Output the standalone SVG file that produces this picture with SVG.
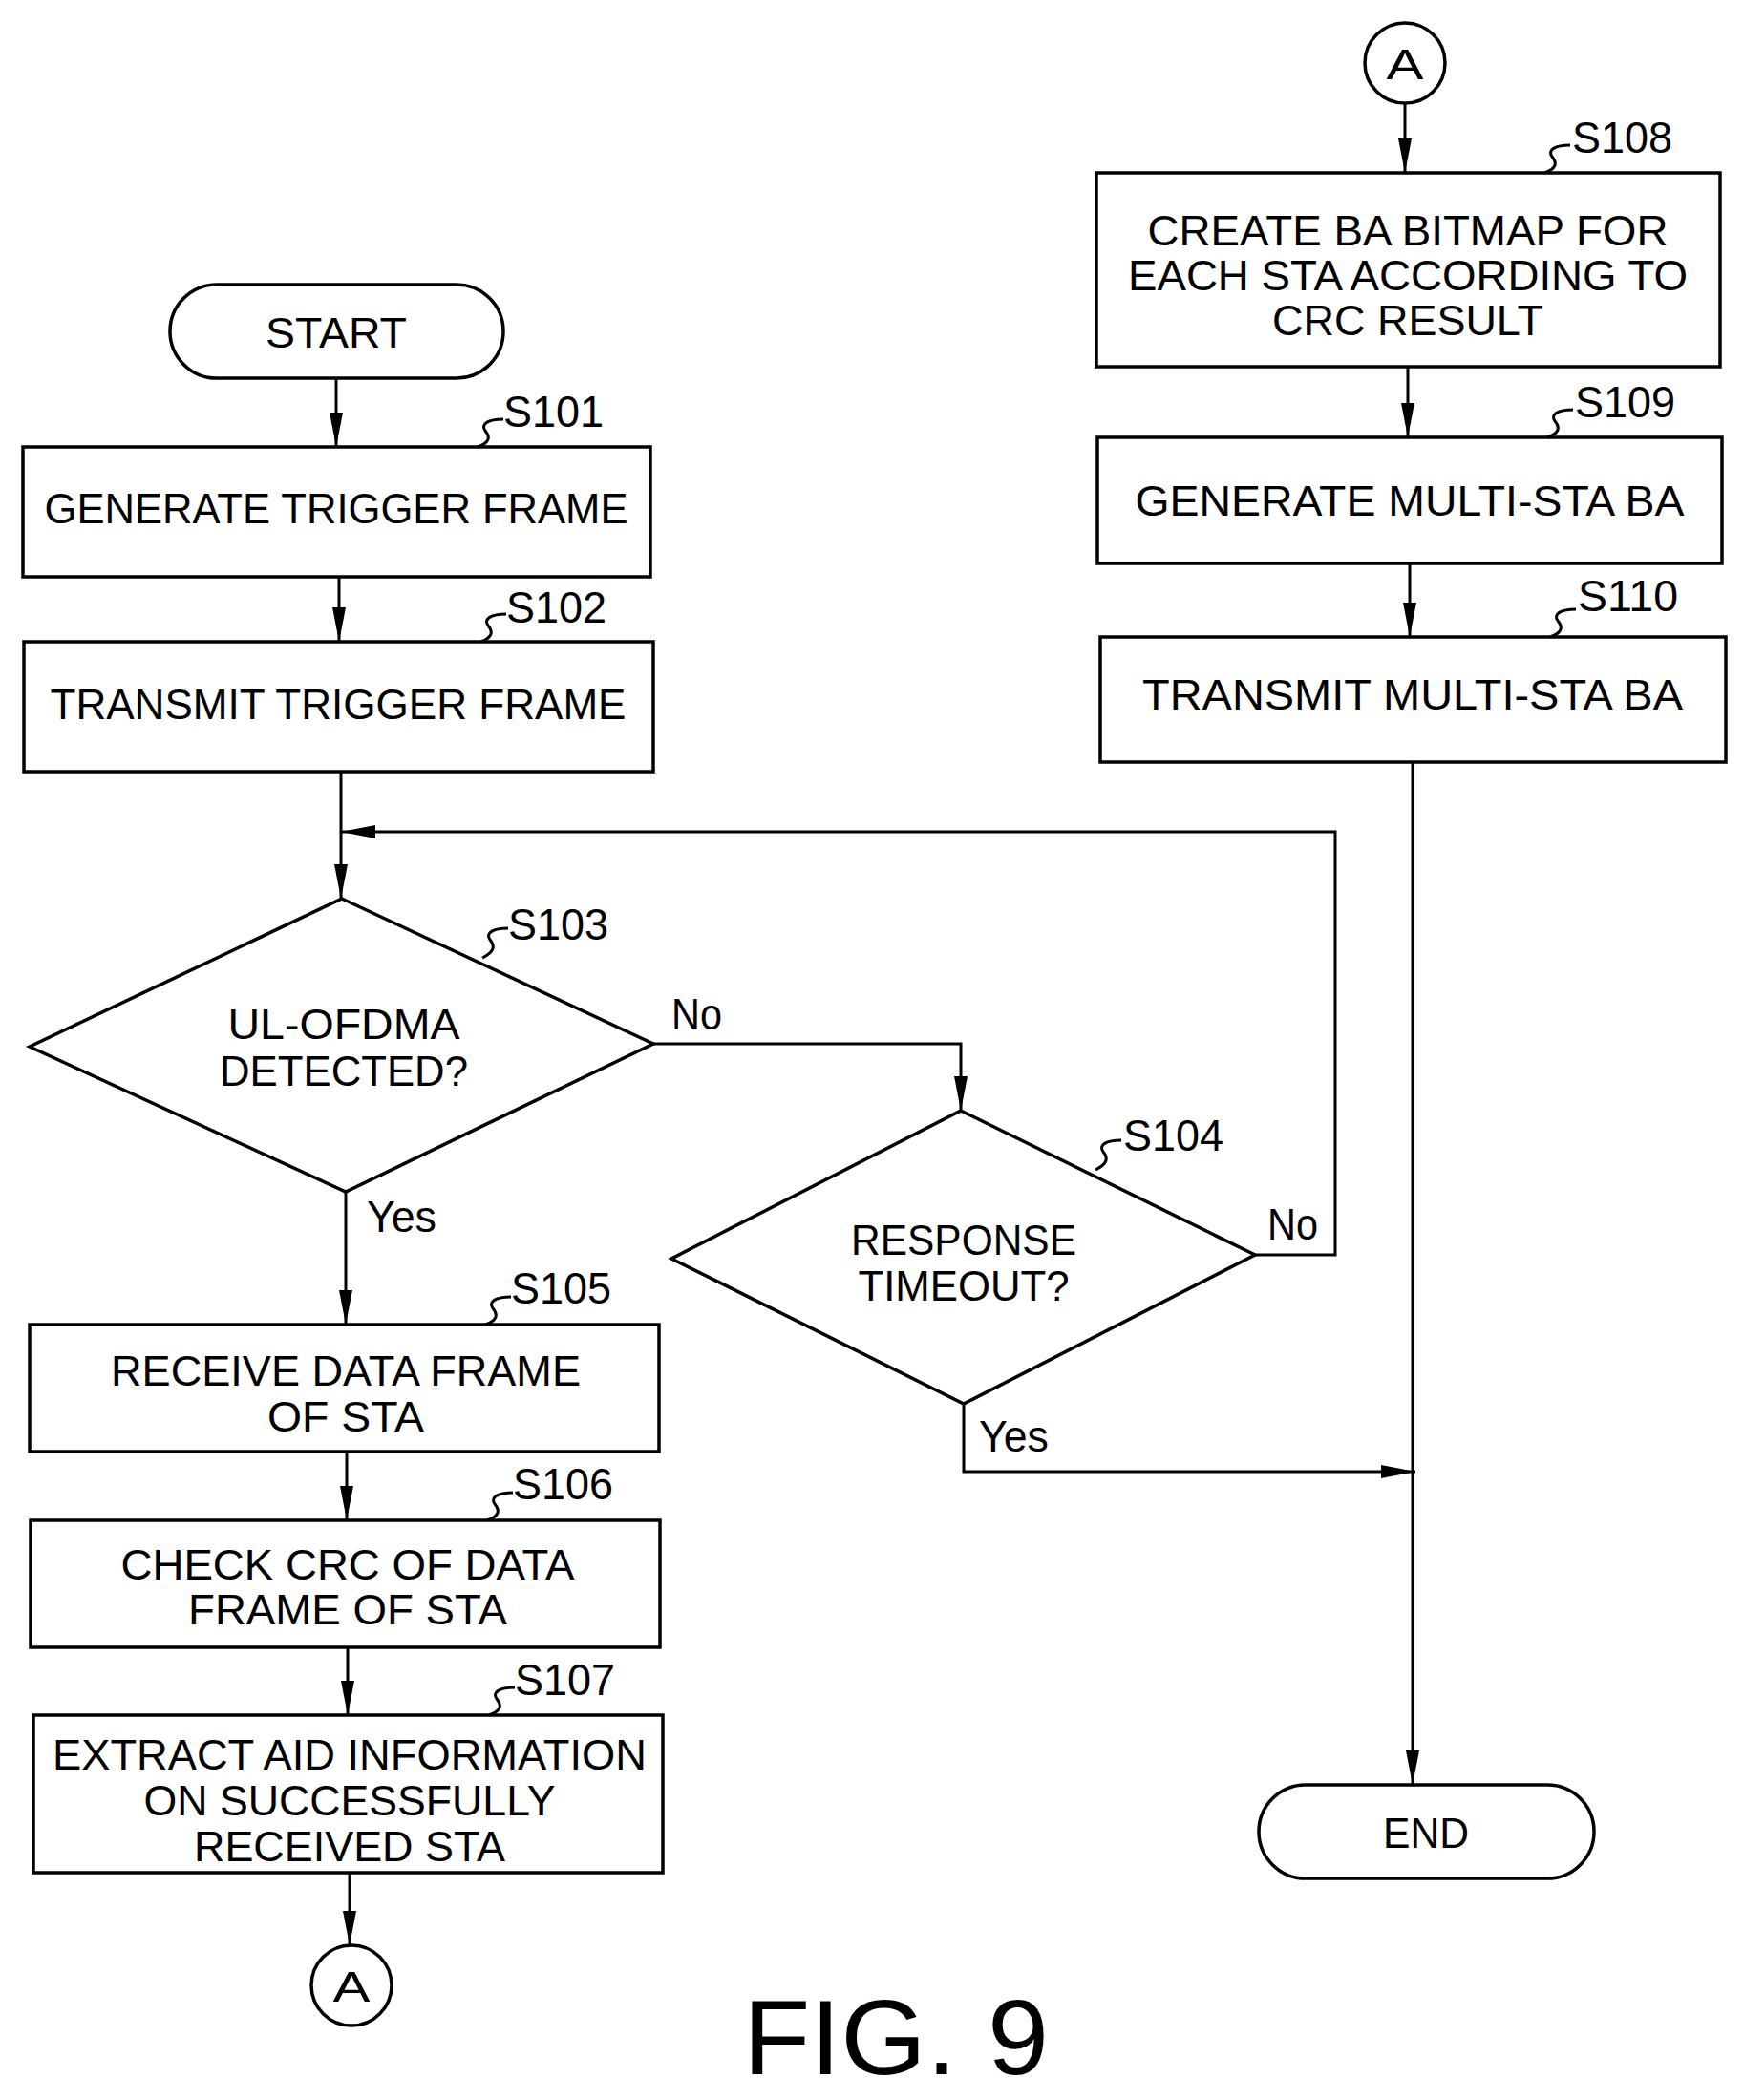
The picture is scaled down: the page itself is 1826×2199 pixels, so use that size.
<svg xmlns="http://www.w3.org/2000/svg" width="1826" height="2199" viewBox="0 0 1826 2199">
<style>
.s{fill:#fff;stroke:#000;stroke-width:3.5}
.c{fill:none;stroke:#000;stroke-width:3}
.t{font-family:"Liberation Sans",Arial,sans-serif;font-size:45px;text-anchor:middle}
.l{font-family:"Liberation Sans",Arial,sans-serif;font-size:46px}
</style>
<defs>
<marker id="a" viewBox="0 0 36 14" refX="36" refY="7" markerWidth="36" markerHeight="14" orient="auto" markerUnits="userSpaceOnUse"><path d="M0,0 L36,7 L0,14 Z" fill="#000"/></marker></defs>
<rect width="1826" height="2199" fill="#fff"/>
<g id="connectors">
<path class="c" d="M352,396 V468" marker-end="url(#a)"/>
<path class="c" d="M355,604 V672" marker-end="url(#a)"/>
<path class="c" d="M357,808 V941" marker-end="url(#a)"/>
<path class="c" d="M1314,1314 H1398 V871 H357" marker-end="url(#a)"/>
<path class="c" d="M684,1093 H1006 V1163" marker-end="url(#a)"/>
<path class="c" d="M362,1248 V1387" marker-end="url(#a)"/>
<path class="c" d="M363,1520 V1592" marker-end="url(#a)"/>
<path class="c" d="M364,1725 V1796" marker-end="url(#a)"/>
<path class="c" d="M366,1961 V2037" marker-end="url(#a)"/>
<path class="c" d="M1471,108 V181" marker-end="url(#a)"/>
<path class="c" d="M1474,384 V458" marker-end="url(#a)"/>
<path class="c" d="M1476,590 V667" marker-end="url(#a)"/>
<path class="c" d="M1479,798 V1869" marker-end="url(#a)"/>
<path class="c" d="M1009,1470 V1541 H1482" marker-end="url(#a)"/>
<text class="l" x="703" y="1078" textLength="53" lengthAdjust="spacingAndGlyphs">No</text>
<text class="l" x="1327" y="1298" textLength="53" lengthAdjust="spacingAndGlyphs">No</text>
<text class="l" x="384" y="1290" textLength="73" lengthAdjust="spacingAndGlyphs">Yes</text>
<text class="l" x="1025" y="1520" textLength="73" lengthAdjust="spacingAndGlyphs">Yes</text>
</g>
<g id="start"><rect class="s" x="178" y="298" width="349" height="98" rx="49"/><text class="t" x="352" y="364" textLength="148" lengthAdjust="spacingAndGlyphs">START</text></g>
<g id="s101"><rect class="s" x="24" y="468" width="657" height="136"/><text class="t" x="352" y="548" textLength="611" lengthAdjust="spacingAndGlyphs">GENERATE TRIGGER FRAME</text>
<path class="c" d="M500,468 c12,-4 14,-10 8,-17 c-5,-7 3,-12 19,-12" stroke-width="2"/><text class="l" x="527" y="447" textLength="105" lengthAdjust="spacingAndGlyphs">S101</text></g>
<g id="s102"><rect class="s" x="25" y="672" width="659" height="136"/><text class="t" x="354" y="753" textLength="603" lengthAdjust="spacingAndGlyphs">TRANSMIT TRIGGER FRAME</text>
<path class="c" d="M503,672 c12,-4 14,-10 8,-17 c-5,-7 3,-12 19,-12" stroke-width="2"/><text class="l" x="530" y="652" textLength="105" lengthAdjust="spacingAndGlyphs">S102</text></g>
<g id="s103"><polygon class="s" points="358,941 684,1093 362,1248 31,1096"/><text class="t" x="360" y="1088" textLength="243" lengthAdjust="spacingAndGlyphs">UL-OFDMA</text><text class="t" x="360" y="1137" textLength="260" lengthAdjust="spacingAndGlyphs">DETECTED?</text>
<path class="c" d="M505,1003 c12,-6 14,-12 8,-19 c-5,-7 3,-12 19,-12" stroke-width="2"/><text class="l" x="532" y="984" textLength="105" lengthAdjust="spacingAndGlyphs">S103</text></g>
<g id="s104"><polygon class="s" points="1006,1163 1314,1314 1009,1470 703,1318"/><text class="t" x="1009" y="1314" textLength="236" lengthAdjust="spacingAndGlyphs">RESPONSE</text><text class="t" x="1009" y="1362" textLength="221" lengthAdjust="spacingAndGlyphs">TIMEOUT?</text>
<path class="c" d="M1147,1225 c12,-6 14,-12 8,-19 c-5,-7 3,-12 19,-12" stroke-width="2"/><text class="l" x="1176" y="1205" textLength="105" lengthAdjust="spacingAndGlyphs">S104</text></g>
<g id="s105"><rect class="s" x="31" y="1387" width="659" height="133"/><text class="t" x="362" y="1451" textLength="492" lengthAdjust="spacingAndGlyphs">RECEIVE DATA FRAME</text><text class="t" x="362" y="1499" textLength="164" lengthAdjust="spacingAndGlyphs">OF STA</text>
<path class="c" d="M508,1387 c12,-4 14,-10 8,-17 c-5,-7 3,-12 19,-12" stroke-width="2"/><text class="l" x="535" y="1365" textLength="105" lengthAdjust="spacingAndGlyphs">S105</text></g>
<g id="s106"><rect class="s" x="32" y="1592" width="659" height="133"/><text class="t" x="364" y="1654" textLength="475" lengthAdjust="spacingAndGlyphs">CHECK CRC OF DATA</text><text class="t" x="364" y="1701" textLength="334" lengthAdjust="spacingAndGlyphs">FRAME OF STA</text>
<path class="c" d="M510,1592 c12,-4 14,-10 8,-17 c-5,-7 3,-12 19,-12" stroke-width="2"/><text class="l" x="537" y="1570" textLength="105" lengthAdjust="spacingAndGlyphs">S106</text></g>
<g id="s107"><rect class="s" x="35" y="1796" width="659" height="165"/><text class="t" x="366" y="1853" textLength="622" lengthAdjust="spacingAndGlyphs">EXTRACT AID INFORMATION</text><text class="t" x="366" y="1901" textLength="431" lengthAdjust="spacingAndGlyphs">ON SUCCESSFULLY</text><text class="t" x="366" y="1949" textLength="326" lengthAdjust="spacingAndGlyphs">RECEIVED STA</text>
<path class="c" d="M512,1796 c12,-4 14,-10 8,-17 c-5,-7 3,-12 19,-12" stroke-width="2"/><text class="l" x="539" y="1775" textLength="105" lengthAdjust="spacingAndGlyphs">S107</text></g>
<g id="a-bottom"><circle class="s" cx="368" cy="2079" r="42"/><text class="t" x="368" y="2096" textLength="39" lengthAdjust="spacingAndGlyphs">A</text></g>
<g id="a-top"><circle class="s" cx="1471" cy="66" r="42"/><text class="t" x="1471" y="83" textLength="39" lengthAdjust="spacingAndGlyphs">A</text></g>
<g id="s108"><rect class="s" x="1148" y="181" width="653" height="203"/><text class="t" x="1474" y="257" textLength="545" lengthAdjust="spacingAndGlyphs">CREATE BA BITMAP FOR</text><text class="t" x="1474" y="304" textLength="586" lengthAdjust="spacingAndGlyphs">EACH STA ACCORDING TO</text><text class="t" x="1474" y="351" textLength="284" lengthAdjust="spacingAndGlyphs">CRC RESULT</text>
<path class="c" d="M1617,181 c12,-4 14,-10 8,-17 c-5,-7 3,-12 19,-12" stroke-width="2"/><text class="l" x="1646" y="160" textLength="105" lengthAdjust="spacingAndGlyphs">S108</text></g>
<g id="s109"><rect class="s" x="1149" y="458" width="654" height="132"/><text class="t" x="1476" y="540" textLength="575" lengthAdjust="spacingAndGlyphs">GENERATE MULTI-STA BA</text>
<path class="c" d="M1620,458 c12,-4 14,-10 8,-17 c-5,-7 3,-12 19,-12" stroke-width="2"/><text class="l" x="1649" y="437" textLength="105" lengthAdjust="spacingAndGlyphs">S109</text></g>
<g id="s110"><rect class="s" x="1152" y="667" width="655" height="131"/><text class="t" x="1479" y="743" textLength="566" lengthAdjust="spacingAndGlyphs">TRANSMIT MULTI-STA BA</text>
<path class="c" d="M1623,667 c12,-4 14,-10 8,-17 c-5,-7 3,-12 19,-12" stroke-width="2"/><text class="l" x="1652" y="640" textLength="105" lengthAdjust="spacingAndGlyphs">S110</text></g>
<g id="end"><rect class="s" x="1318" y="1869" width="351" height="98" rx="49"/><text class="t" x="1493" y="1935" textLength="90" lengthAdjust="spacingAndGlyphs">END</text></g>
<text x="938" y="2172" font-family="'Liberation Sans',Arial,sans-serif" font-size="112" text-anchor="middle" textLength="320" lengthAdjust="spacingAndGlyphs">FIG. 9</text>
</svg>
